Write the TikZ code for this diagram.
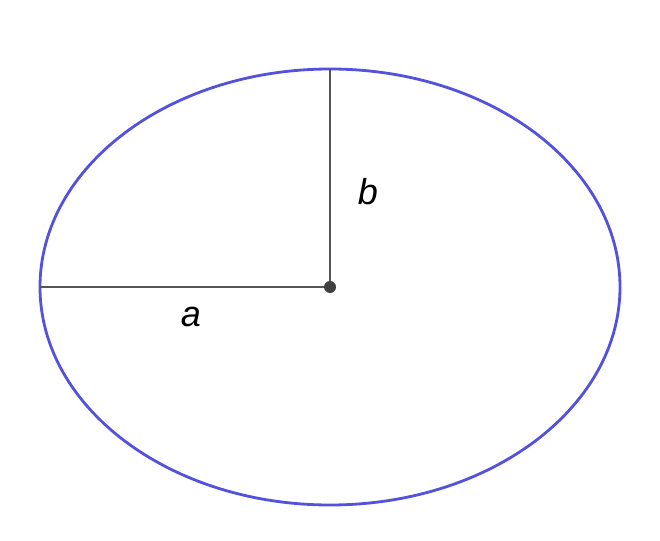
\documentclass[tikz,border=0pt]{standalone}
\usepackage{fontspec}
\setmainfont{Liberation Sans}
\begin{document}
\begin{tikzpicture}[x=1pt,y=-1pt,
  ell/.style={draw=ellblue,line width=2.8pt},
  axis/.style={draw=axgray,line width=2.6pt},
  lbl/.style={font=\fontsize{36}{40}\selectfont\itshape,inner sep=0pt}]
\definecolor{ellblue}{RGB}{82,82,222}
\definecolor{axgray}{RGB}{85,85,85}
\useasboundingbox (0,0) rectangle (660,540);
\fill[white] (0,0) rectangle (660,540);
\coordinate (O) at (330,287);
\coordinate (L) at (40,287);
\coordinate (T) at (330,69);
\draw[ell] (O) ellipse [x radius=290, y radius=218];
\draw[axis] (L) -- (O);
\draw[axis] (O) -- (T);
\fill[black!75] (O) circle (6);
\node[lbl] (a) at (191,317) {a};
\node[lbl] (b) at (368,192) {b};
\end{tikzpicture}
\end{document}
